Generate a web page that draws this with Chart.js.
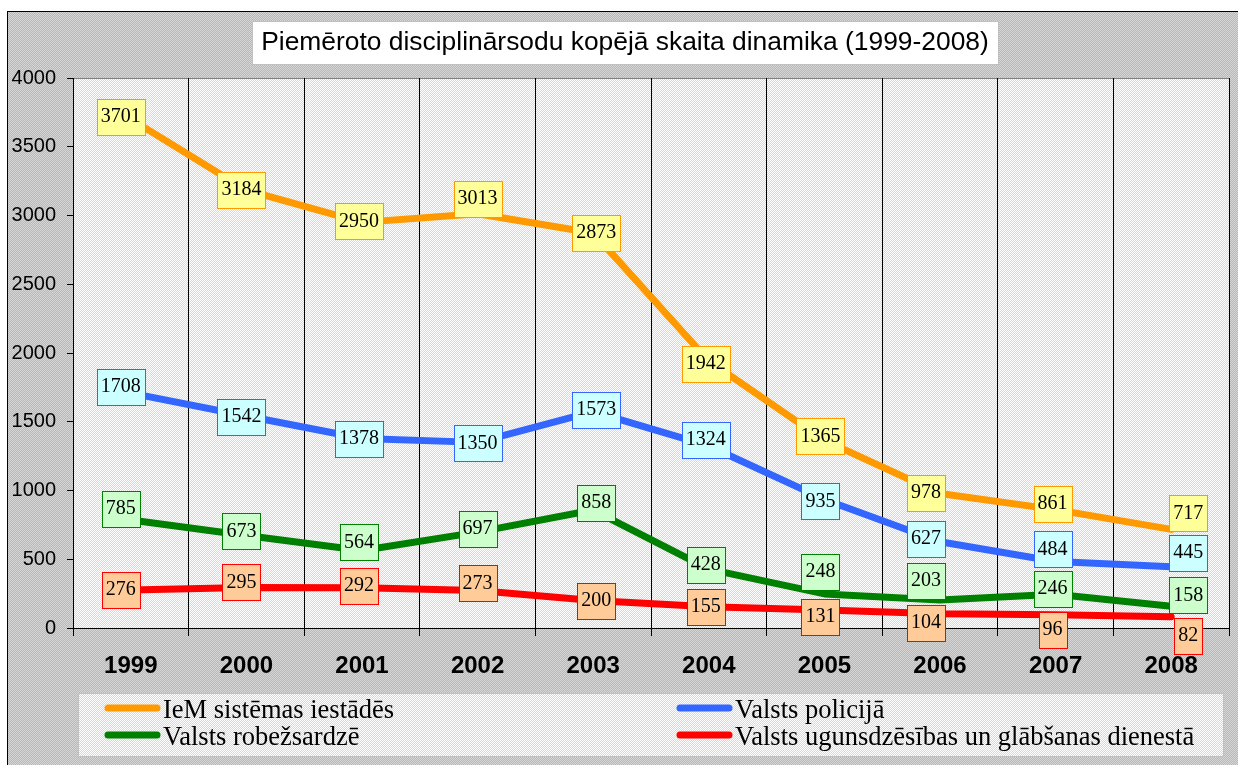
<!DOCTYPE html>
<html lang="lv"><head>
<meta charset="utf-8"/>
<title>Piemēroto disciplinārsodu kopējā skaita dinamika</title>
<script src="https://cdn.jsdelivr.net/npm/chart.js"></script>
<style>
    html, body { margin: 0; padding: 0; background: #fff; }
    canvas { display: block; }
</style>
</head>
<body>
<canvas id="chart" width="1238" height="765"></canvas>
<script>
        // data
        const years = ['1999', '2000', '2001', '2002', '2003', '2004', '2005', '2006', '2007', '2008'];
        const iem = [3701, 3184, 2950, 3013, 2873, 1942, 1365, 978, 861, 717];
        const policija = [1708, 1542, 1378, 1350, 1573, 1324, 935, 627, 484, 445];
        const robezsardze = [785, 673, 564, 697, 858, 428, 248, 203, 246, 158];
        const ugunsdzesiba = [276, 295, 292, 273, 200, 155, 131, 104, 96, 82];
        const yTicks = [0, 500, 1000, 1500, 2000, 2500, 3000, 3500, 4000];

        // label nudges (px), like Excel placed them
        const labelDx = [-10, -5, -3, 0, 3, -3, -4, -14, -3, 17];
        const labelDy = [
            [-2, 0, -1, -15, 0, 3, -4, -1, -6, -16],
            [-6, 1, 0, 1, -2, -6, 2, -3, -12, -14],
            [-11, -4, -8, -3, -7, -4, -22, -19, -5, -11],
            [0, -5, -2, -7, 0, 0, 7, 9, 15, 19]
        ];

        const SANS = '"Liberation Sans", Arial, sans-serif';
        const SERIF = '"Liberation Serif", "Times New Roman", serif';

        function dots(a, b) {
            const c = document.createElement('canvas');
            c.width = 2; c.height = 2;
            const g = c.getContext('2d');
            g.fillStyle = a; g.fillRect(0, 0, 2, 2);
            g.fillStyle = b; g.fillRect(0, 0, 1, 1); g.fillRect(1, 1, 1, 1);
            return g;
        }

        const series = [
            { label: 'IeM sistēmas iestādēs', data: iem, color: '#FF9900', box: '#FFFF99' },
            { label: 'Valsts policijā', data: policija, color: '#3366FF', box: '#CCFFFF' },
            { label: 'Valsts robežsardzē', data: robezsardze, color: '#008000', box: '#CCFFCC' },
            { label: 'Valsts ugunsdzēsības un glābšanas dienestā', data: ugunsdzesiba, color: '#FF0000', box: '#FFCC99' }
        ];

        const backdrop = {
            id: 'backdrop',
            beforeDraw(chart) {
                const ctx = chart.ctx;
                const a = chart.chartArea;
                ctx.save();
                ctx.fillStyle = ctx.createPattern(dots('#b8b8b8', '#d6d6d6').canvas, 'repeat');
                ctx.fillRect(0, 0, chart.width, chart.height);
                ctx.fillStyle = '#fff';
                ctx.fillRect(0, 0, chart.width, 11);
                ctx.fillRect(0, 0, 7, chart.height);
                ctx.strokeStyle = '#000';
                ctx.lineWidth = 1;
                ctx.strokeRect(7.5, 11.5, chart.width + 20, chart.height + 20);
                ctx.fillStyle = ctx.createPattern(dots('#d8d8d8', '#ffffff').canvas, 'repeat');
                ctx.fillRect(a.left, a.top, a.right - a.left, a.bottom - a.top);
                ctx.strokeStyle = '#808080';
                ctx.strokeRect(a.left + 0.5, a.top + 0.5, a.right - a.left, a.bottom - a.top);

                // title box
                ctx.fillStyle = '#fff';
                ctx.fillRect(252, 21, 746, 43);
                ctx.strokeStyle = '#c0c0c0';
                ctx.strokeRect(252.5, 21.5, 746, 43);
                ctx.fillStyle = '#000';
                ctx.font = '26.4px ' + SANS;
                ctx.textAlign = 'center';
                ctx.textBaseline = 'middle';
                ctx.fillText('Piemēroto disciplinārsodu kopējā skaita dinamika (1999-2008)', 625, 43);
                ctx.restore();
            },
            afterDraw(chart) {
                const ctx = chart.ctx;
                ctx.save();
                // legend box
                ctx.fillStyle = ctx.createPattern(dots('#d8d8d8', '#ffffff').canvas, 'repeat');
                ctx.fillRect(78, 693, 1145, 63);
                ctx.strokeStyle = '#c0c0c0';
                ctx.lineWidth = 1;
                ctx.strokeRect(78.5, 693.5, 1145, 63);
                ctx.font = '26.5px ' + SERIF;
                ctx.textAlign = 'left';
                ctx.textBaseline = 'middle';
                chart.data.datasets.forEach((ds, i) => {
                    const col = i % 2, row = Math.floor(i / 2);
                    const x0 = col === 0 ? 105 : 677;
                    const y = 708 + row * 27;
                    ctx.strokeStyle = ds.borderColor;
                    ctx.lineWidth = 7;
                    ctx.lineCap = 'round';
                    ctx.beginPath();
                    ctx.moveTo(x0 + 3, y);
                    ctx.lineTo(x0 + 52, y);
                    ctx.stroke();
                    ctx.fillStyle = '#000';
                    ctx.fillText(ds.label, x0 + 58, y + 3);
                });
                ctx.restore();
            },
            afterDatasetsDraw(chart) {
                const ctx = chart.ctx;
                ctx.save();
                ctx.font = '20px ' + SERIF;
                ctx.textAlign = 'center';
                ctx.textBaseline = 'middle';
                chart.data.datasets.forEach((ds, i) => {
                    chart.getDatasetMeta(i).data.forEach((pt, j) => {
                        const txt = String(ds.data[j]);
                        const w = ctx.measureText(txt).width + 8;
                        const h = 36;
                        const cx = pt.x + labelDx[j];
                        const cy = pt.y + labelDy[i][j];
                        const x = Math.round(cx - w / 2) + 0.5;
                        const y = Math.round(cy - h / 2) + 0.5;
                        ctx.fillStyle = series[i].box;
                        ctx.fillRect(x, y, w, h);
                        ctx.strokeStyle = ds.borderColor;
                        ctx.lineWidth = 1;
                        ctx.strokeRect(x, y, w, h);
                        ctx.fillStyle = '#000';
                        ctx.fillText(txt, cx, cy);
                    });
                });
                ctx.restore();
            }
        };

        new Chart(document.getElementById('chart'), {
            type: 'line',
            data: {
                labels: years,
                datasets: series.map(s => ({
                    label: s.label,
                    data: s.data,
                    borderColor: s.color,
                    backgroundColor: s.color,
                    borderWidth: 7,
                    borderJoinStyle: 'round',
                    borderCapStyle: 'round',
                    pointRadius: 0,
                    tension: 0,
                    fill: false
                }))
            },
            options: {
                responsive: false,
                animation: false,
                layout: { padding: { left: 0, top: 78, right: 9, bottom: 0 } },
                scales: {
                    x: {
                        offset: true,
                        grid: { offset: true, color: '#000', lineWidth: 1, tickLength: 8, tickColor: '#000' },
                        border: { color: '#000', width: 1 },
                        ticks: { color: '#000', padding: 16, font: { family: SANS, size: 24, weight: 'bold' }, maxRotation: 0 },
                        afterFit: s => { s.height = 137; }
                    },
                    y: {
                        min: 0,
                        max: 4000,
                        afterBuildTicks: s => { s.ticks = yTicks.map(v => ({ value: v })); },
                        grid: { drawOnChartArea: false, tickLength: 6, tickColor: '#000' },
                        border: { color: '#000', width: 1 },
                        ticks: { color: '#000', padding: 11, font: { family: SANS, size: 20 }, callback: v => String(v) },
                        afterFit: s => { s.width = 73; }
                    }
                },
                plugins: {
                    legend: { display: false },
                    title: { display: false },
                    tooltip: { enabled: false }
                }
            },
            plugins: [backdrop]
        });
    </script>
</body></html>
